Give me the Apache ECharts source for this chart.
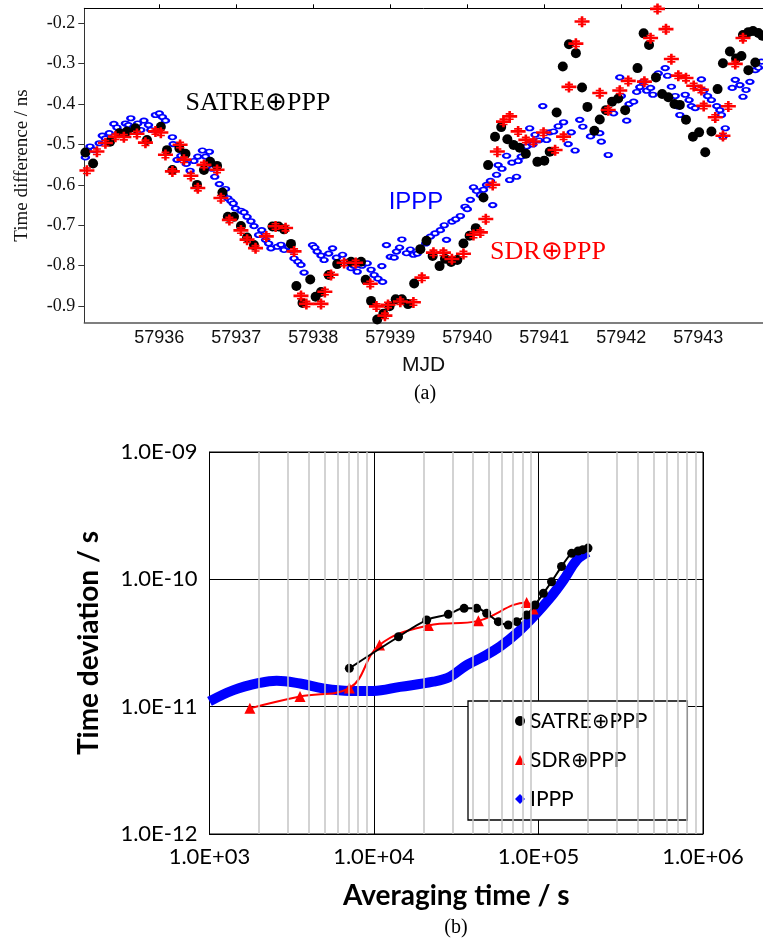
<!DOCTYPE html>
<html>
<head>
<meta charset="utf-8">
<script src="https://cdn.jsdelivr.net/npm/echarts@6/dist/echarts.min.js"></script>
<style>
html, body { margin: 0; padding: 0; background: #fff; }
#main { width: 763px; height: 943px; }
</style>
</head>
<body>
<div id="main"></div>
<script>
// ---- (a) time difference vs MJD : [MJD, ns]
var satreTop = [[57935.04,-0.520],[57935.14,-0.547],[57935.36,-0.493],[57935.48,-0.472],[57935.58,-0.468],[57935.69,-0.460],[57935.84,-0.489],[57936.02,-0.456],[57936.10,-0.514],[57936.17,-0.563],[57936.26,-0.509],[57936.34,-0.523],[57936.49,-0.600],[57936.58,-0.563],[57936.66,-0.543],[57936.75,-0.553],[57936.82,-0.619],[57936.89,-0.679],[57936.97,-0.679],[57937.06,-0.702],[57937.14,-0.730],[57937.23,-0.749],[57937.47,-0.703],[57937.55,-0.703],[57937.62,-0.710],[57937.71,-0.746],[57937.78,-0.850],[57937.86,-0.892],[57937.96,-0.834],[57938.03,-0.877],[57938.10,-0.865],[57938.20,-0.823],[57938.31,-0.796],[57938.49,-0.790],[57938.62,-0.790],[57938.68,-0.835],[57938.75,-0.887],[57938.83,-0.933],[57938.91,-0.919],[57938.99,-0.900],[57939.07,-0.883],[57939.15,-0.883],[57939.23,-0.895],[57939.31,-0.844],[57939.39,-0.759],[57939.47,-0.738],[57939.55,-0.776],[57939.64,-0.801],[57939.71,-0.783],[57939.79,-0.791],[57939.87,-0.786],[57939.95,-0.745],[57940.03,-0.726],[57940.11,-0.707],[57940.21,-0.631],[57940.27,-0.551],[57940.36,-0.481],[57940.44,-0.457],[57940.52,-0.487],[57940.60,-0.501],[57940.68,-0.508],[57940.76,-0.523],[57940.91,-0.543],[57941.00,-0.540],[57941.07,-0.518],[57941.16,-0.421],[57941.24,-0.307],[57941.32,-0.252],[57941.41,-0.274],[57941.49,-0.359],[57941.56,-0.407],[57941.65,-0.466],[57941.72,-0.438],[57941.80,-0.415],[57941.88,-0.394],[57941.96,-0.386],[57942.05,-0.415],[57942.21,-0.311],[57942.29,-0.225],[57942.36,-0.254],[57942.45,-0.334],[57942.53,-0.375],[57942.61,-0.383],[57942.69,-0.400],[57942.76,-0.402],[57942.84,-0.439],[57942.93,-0.481],[57943.01,-0.470],[57943.09,-0.519],[57943.17,-0.468],[57943.25,-0.363],[57943.32,-0.299],[57943.41,-0.270],[57943.49,-0.287],[57943.56,-0.281],[57943.65,-0.316],[57943.74,-0.297],[57943.58,-0.229],[57943.65,-0.222],[57943.71,-0.219],[57943.78,-0.224],[57943.83,-0.231]];

var sdrTop = [[57935.06,-0.565],[57935.19,-0.518],[57935.30,-0.497],[57935.43,-0.481],[57935.54,-0.482],[57935.71,-0.474],[57935.82,-0.496],[57935.95,-0.468],[57936.02,-0.471],[57936.08,-0.526],[57936.17,-0.567],[57936.27,-0.501],[57936.32,-0.538],[57936.41,-0.578],[57936.50,-0.608],[57936.58,-0.551],[57936.75,-0.563],[57936.80,-0.633],[57936.91,-0.687],[57937.06,-0.713],[57937.14,-0.736],[57937.25,-0.757],[57937.39,-0.728],[57937.51,-0.703],[57937.64,-0.707],[57937.75,-0.765],[57937.84,-0.875],[57937.91,-0.895],[57938.10,-0.895],[57938.15,-0.865],[57938.23,-0.823],[57938.40,-0.793],[57938.55,-0.793],[57938.74,-0.845],[57938.82,-0.901],[57938.93,-0.924],[57938.97,-0.897],[57939.13,-0.889],[57939.30,-0.891],[57939.41,-0.830],[57939.56,-0.768],[57939.69,-0.768],[57939.80,-0.784],[57939.95,-0.771],[57940.08,-0.724],[57940.17,-0.718],[57940.24,-0.685],[57940.33,-0.600],[57940.39,-0.518],[57940.47,-0.444],[57940.55,-0.431],[57940.66,-0.468],[57940.76,-0.489],[57940.86,-0.493],[57940.99,-0.471],[57941.14,-0.514],[57941.25,-0.481],[57941.32,-0.358],[57941.41,-0.251],[57941.49,-0.196],[57941.72,-0.373],[57941.83,-0.415],[57941.98,-0.367],[57942.09,-0.343],[57942.30,-0.345],[57942.38,-0.237],[57942.47,-0.165],[57942.58,-0.215],[57942.65,-0.289],[57942.74,-0.330],[57942.84,-0.336],[57942.94,-0.355],[57943.04,-0.365],[57943.07,-0.405],[57943.22,-0.433],[57943.32,-0.479],[57943.39,-0.406],[57943.48,-0.301],[57943.58,-0.237]];

var ipppTop = [[57935.04,-0.532],[57935.10,-0.505],[57935.15,-0.514],[57935.22,-0.497],[57935.26,-0.478],[57935.30,-0.485],[57935.35,-0.472],[57935.41,-0.449],[57935.45,-0.458],[57935.50,-0.468],[57935.56,-0.448],[57935.60,-0.452],[57935.63,-0.435],[57935.67,-0.456],[57935.72,-0.448],[57935.76,-0.464],[57935.80,-0.441],[57935.86,-0.452],[57935.89,-0.464],[57935.95,-0.427],[57936.00,-0.423],[57936.04,-0.432],[57936.08,-0.441],[57936.17,-0.482],[57936.18,-0.499],[57936.23,-0.538],[57936.28,-0.528],[57936.35,-0.548],[57936.40,-0.565],[57936.45,-0.541],[57936.50,-0.530],[57936.56,-0.515],[57936.60,-0.530],[57936.65,-0.518],[57936.69,-0.560],[57936.72,-0.580],[57936.78,-0.598],[57936.83,-0.625],[57936.86,-0.610],[57936.89,-0.633],[57936.93,-0.640],[57936.96,-0.646],[57936.99,-0.658],[57937.06,-0.664],[57937.10,-0.668],[57937.14,-0.679],[57937.19,-0.690],[57937.23,-0.702],[57937.29,-0.724],[57937.33,-0.712],[57937.38,-0.736],[57937.42,-0.745],[57937.45,-0.757],[57937.53,-0.753],[57937.58,-0.748],[57937.62,-0.761],[57937.68,-0.753],[57937.72,-0.762],[57937.75,-0.782],[57937.80,-0.790],[57937.84,-0.798],[57937.88,-0.817],[57937.99,-0.749],[57938.02,-0.755],[57938.05,-0.765],[57938.10,-0.775],[57938.14,-0.786],[57938.20,-0.770],[57938.25,-0.757],[57938.30,-0.780],[57938.38,-0.773],[57938.44,-0.790],[57938.49,-0.806],[57938.53,-0.800],[57938.57,-0.815],[57938.63,-0.800],[57938.70,-0.794],[57938.75,-0.810],[57938.79,-0.823],[57938.84,-0.832],[57938.90,-0.840],[57938.95,-0.749],[57939.00,-0.778],[57938.89,-0.801],[57939.05,-0.780],[57939.08,-0.765],[57939.12,-0.755],[57939.15,-0.735],[57939.21,-0.769],[57939.26,-0.760],[57939.30,-0.773],[57939.35,-0.770],[57939.39,-0.757],[57939.46,-0.745],[57939.52,-0.728],[57939.58,-0.720],[57939.65,-0.712],[57939.70,-0.700],[57939.73,-0.736],[57939.80,-0.691],[57939.85,-0.685],[57939.91,-0.677],[57939.97,-0.654],[57940.00,-0.660],[57940.04,-0.637],[57940.08,-0.606],[57940.12,-0.615],[57940.17,-0.625],[57940.21,-0.612],[57940.25,-0.600],[57940.30,-0.590],[57940.33,-0.650],[57940.38,-0.575],[57940.40,-0.551],[57940.45,-0.560],[57940.51,-0.528],[57940.55,-0.588],[57940.58,-0.545],[57940.64,-0.580],[57940.66,-0.541],[57940.70,-0.530],[57940.77,-0.505],[57940.81,-0.460],[57940.85,-0.500],[57940.88,-0.476],[57940.93,-0.490],[57940.98,-0.405],[57941.03,-0.489],[57941.07,-0.470],[57941.12,-0.468],[57941.18,-0.455],[57941.25,-0.445],[57941.31,-0.499],[57941.35,-0.470],[57941.40,-0.515],[57941.46,-0.439],[57941.50,-0.456],[57941.60,-0.480],[57941.66,-0.470],[57941.72,-0.472],[57941.74,-0.493],[57941.83,-0.526],[57941.90,-0.423],[57941.98,-0.334],[57942.00,-0.380],[57942.07,-0.441],[57942.10,-0.400],[57942.16,-0.394],[57942.20,-0.370],[57942.24,-0.358],[57942.28,-0.345],[57942.33,-0.367],[57942.38,-0.360],[57942.41,-0.377],[57942.48,-0.324],[57942.57,-0.311],[57942.60,-0.330],[57942.65,-0.357],[57942.70,-0.380],[57942.74,-0.406],[57942.76,-0.427],[57942.83,-0.377],[57942.88,-0.390],[57942.91,-0.405],[57942.96,-0.410],[57943.00,-0.360],[57943.04,-0.339],[57943.07,-0.367],[57943.12,-0.380],[57943.17,-0.390],[57943.24,-0.405],[57943.28,-0.415],[57943.30,-0.427],[57943.35,-0.460],[57943.32,-0.481],[57943.44,-0.360],[57943.48,-0.340],[57943.54,-0.353],[57943.58,-0.382],[57943.62,-0.365],[57943.67,-0.345],[57943.74,-0.316],[57943.78,-0.310],[57943.82,-0.295]];

var mjdTicks = [57936, 57937, 57938, 57939, 57940, 57941, 57942, 57943];
var nsTicks = [-0.9, -0.8, -0.7, -0.6, -0.5, -0.4, -0.3, -0.2];

// ---- (b) time deviation vs averaging time
var satreTau  = [7080, 14100, 20900, 28300, 35300, 42100, 48400, 57000, 65500, 73700, 84800, 95200, 107000, 120000, 138000, 159000, 174000, 186000, 200000];
var satreTdev = [2.00e-11, 3.54e-11, 4.79e-11, 5.31e-11, 5.92e-11, 5.92e-11, 5.41e-11, 4.65e-11, 4.38e-11, 4.65e-11, 5.25e-11, 6.29e-11, 7.76e-11, 9.58e-11, 1.26e-10, 1.60e-10, 1.67e-10, 1.71e-10, 1.76e-10];

var sdrTau  = [1760, 3550, 7080, 10800, 21400, 43100, 84700, 92700];
var sdrTdev = [9.7e-12, 1.20e-11, 1.40e-11, 3.05e-11, 4.34e-11, 4.72e-11, 6.58e-11, 5.85e-11];

var ipppTau  = [1000, 1400, 2030, 2560, 3550, 4920, 7140, 9900, 14400, 22900, 29000, 36600, 46200, 58300, 73700, 93000, 117000, 142000, 171000, 200000];
var ipppTdev = [1.10e-11, 1.35e-11, 1.54e-11, 1.60e-11, 1.52e-11, 1.39e-11, 1.33e-11, 1.33e-11, 1.43e-11, 1.57e-11, 1.72e-11, 2.12e-11, 2.47e-11, 2.96e-11, 3.77e-11, 5.08e-11, 7.09e-11, 9.88e-11, 1.42e-10, 1.64e-10];

var minorTau = [2e3, 3e3, 4e3, 5e3, 6e3, 7e3, 8e3, 9e3, 2e4, 3e4, 4e4, 5e4, 6e4, 7e4, 8e4, 9e4, 2e5, 3e5, 4e5, 5e5, 6e5, 7e5, 8e5, 9e5];

function pairs(xs, ys) {
  var out = [];
  for (var i = 0; i < xs.length; i++) out.push([xs[i], ys[i]]);
  return out;
}
function sciLabel(v) {
  var e = Math.round(Math.log(v) / Math.LN10);
  return '1.0E' + (e < 0 ? '-' : '+') + (Math.abs(e) < 10 ? '0' : '') + Math.abs(e);
}

var serif = '"Liberation Serif", "Times New Roman", serif';
var sans = '"Liberation Sans", Arial, sans-serif';
var cal = 'Lato, "Open Sans", sans-serif';

var chartDom = document.getElementById('main');
var myChart = echarts.init(chartDom);
var option;

option = {
  animation: false,
  backgroundColor: '#fff',
  grid: [
    { left: 84.3, top: 8.3, right: 0, height: 314.4 },
    { left: 209.5, top: 452, width: 493.5, height: 382, show: true, borderColor: '#000', borderWidth: 1 }
  ],
  xAxis: [
    {
      gridIndex: 0, type: 'value', min: 57935.026, max: 57943.84, position: 'bottom',
      axisLine: { lineStyle: { color: '#555', width: 1.5 } },
      axisTick: { show: false },
      splitLine: { show: false },
      axisLabel: {
        customValues: mjdTicks, formatter: function (v) { return String(v); },
        fontFamily: sans, fontSize: 18, color: '#111', margin: 6
      },
      name: 'MJD', nameLocation: 'middle', nameGap: 32,
      nameTextStyle: { fontFamily: sans, fontSize: 21, color: '#111' }
    },
    {
      gridIndex: 0, type: 'value', min: 57935.026, max: 57943.84, position: 'top',
      axisLine: { lineStyle: { color: '#000', width: 1 } },
      axisTick: { show: true, length: 4, customValues: mjdTicks, lineStyle: { color: '#000' } },
      axisLabel: { show: false },
      splitLine: { show: false }
    },
    {
      gridIndex: 1, type: 'log', logBase: 10, min: 1e3, max: 1e6,
      axisLine: { lineStyle: { color: '#000', width: 1 } },
      axisTick: { show: false },
      splitLine: { show: true, lineStyle: { color: '#000', width: 1 } },
      axisLabel: { formatter: sciLabel, fontFamily: cal, fontSize: 22, color: '#000', margin: 12 },
      name: 'Averaging time / s', nameLocation: 'middle', nameGap: 48,
      nameTextStyle: { fontFamily: cal, fontSize: 28, fontWeight: 'bold', color: '#000' }
    }
  ],
  yAxis: [
    {
      gridIndex: 0, type: 'value', min: -0.941, max: -0.163,
      axisLine: { show: true, lineStyle: { color: '#333', width: 1 } },
      axisTick: { show: true, length: 6, customValues: nsTicks, lineStyle: { color: '#333' } },
      axisLabel: {
        customValues: nsTicks, formatter: function (v) { return v.toFixed(1); },
        fontFamily: serif, fontSize: 18, color: '#111', margin: 9
      },
      splitLine: { show: false },
      name: 'Time difference / ns', nameLocation: 'middle', nameGap: 53,
      nameTextStyle: { fontFamily: serif, fontSize: 19, color: '#111' }
    },
    {
      gridIndex: 1, type: 'log', logBase: 10, min: 1e-12, max: 1e-9,
      axisLine: { lineStyle: { color: '#000', width: 1 } },
      axisTick: { show: false },
      splitLine: { show: true, lineStyle: { color: '#000', width: 1 } },
      axisLabel: { formatter: sciLabel, fontFamily: cal, fontSize: 22, color: '#000', margin: 12 },
      name: 'Time deviation / s', nameLocation: 'middle', nameGap: 107,
      nameTextStyle: { fontFamily: cal, fontSize: 28, fontWeight: 'bold', color: '#000' }
    }
  ],
  legend: {
    data: [
      { name: 'SATRE⊕PPP', icon: 'circle' },
      { name: 'SDR⊕PPP', icon: 'triangle' },
      { name: 'IPPP', icon: 'diamond' }
    ],
    orient: 'vertical', left: 468, top: 701,
    padding: [8, 40, 9, 47], itemGap: 15, itemWidth: 10, itemHeight: 10,
    backgroundColor: '#fff', borderColor: '#000', borderWidth: 1.3, borderRadius: 0,
    textStyle: { fontFamily: cal, fontSize: 21, lineHeight: 24, color: '#000' }
  },
  graphic: [
    { type: 'text', x: 258, y: 103, style: { text: 'SATRE⊕PPP', fill: '#000', font: '26px ' + serif, align: 'center', verticalAlign: 'middle' } },
    { type: 'text', x: 416, y: 202, style: { text: 'IPPP', fill: '#0000ff', font: '24px ' + sans, align: 'center', verticalAlign: 'middle' } },
    { type: 'text', x: 548, y: 252, style: { text: 'SDR⊕PPP', fill: '#ff0000', font: '26px ' + serif, align: 'center', verticalAlign: 'middle' } },
    { type: 'text', x: 425, y: 394, style: { text: '(a)', fill: '#000', font: '20px ' + serif, align: 'center', verticalAlign: 'middle' } },
    { type: 'text', x: 456, y: 928, style: { text: '(b)', fill: '#000', font: '20px ' + serif, align: 'center', verticalAlign: 'middle' } }
  ],
  series: [
    // (a)
    {
      name: 'IPPP (a)', type: 'scatter', xAxisIndex: 0, yAxisIndex: 0,
      symbol: 'emptyCircle', symbolSize: [7, 4.5],
      itemStyle: { color: '#0000ff', borderColor: '#0000ff', borderWidth: 2, opacity: 1 },
      data: ipppTop, z: 2
    },
    {
      name: 'SATRE⊕PPP (a)', type: 'scatter', xAxisIndex: 0, yAxisIndex: 0,
      symbol: 'circle', symbolSize: 10,
      itemStyle: { color: '#000', opacity: 1 },
      data: satreTop, z: 3
    },
    {
      name: 'SDR⊕PPP (a)', type: 'scatter', xAxisIndex: 0, yAxisIndex: 0,
      symbol: 'path://M0,4h15v2.6h-15z M6.2,0h2.6v11h-2.6z M3.5,2h8v1.6h-8z M3.5,7.4h8v1.6h-8z',
      symbolSize: [15, 11],
      itemStyle: { color: '#ff0000', opacity: 1 },
      data: sdrTop, z: 4
    },
    // (b) minor grid lines
    {
      name: 'minor', type: 'line', xAxisIndex: 2, yAxisIndex: 1,
      data: [[1e3, 1e-12]], showSymbol: false, lineStyle: { opacity: 0 }, silent: true, z: 1,
      markLine: {
        silent: true, symbol: ['none', 'none'], label: { show: false },
        lineStyle: { color: '#c4c4c4', width: 1.5, type: 'solid' },
        data: minorTau.map(function (t) { return { xAxis: t }; })
      }
    },
    {
      name: 'IPPP', type: 'line', xAxisIndex: 2, yAxisIndex: 1,
      smooth: 0.4, showSymbol: false, symbol: 'diamond',
      itemStyle: { color: '#0000ff' },
      lineStyle: { color: '#0000ff', width: 10 },
      data: pairs(ipppTau, ipppTdev), z: 2
    },
    {
      name: 'SDR⊕PPP', type: 'line', xAxisIndex: 2, yAxisIndex: 1,
      smooth: 0.4, symbol: 'triangle', symbolSize: 11,
      itemStyle: { color: '#ff0000' },
      lineStyle: { color: '#ff0000', width: 2 },
      data: pairs(sdrTau, sdrTdev), z: 3
    },
    {
      name: 'SATRE⊕PPP', type: 'line', xAxisIndex: 2, yAxisIndex: 1,
      smooth: 0.4, symbol: 'circle', symbolSize: 9, showAllSymbol: true,
      itemStyle: { color: '#000' },
      lineStyle: { color: '#000', width: 2 },
      data: pairs(satreTau, satreTdev), z: 4
    }
  ]
};

option && myChart.setOption(option);
</script>
</body>
</html>
